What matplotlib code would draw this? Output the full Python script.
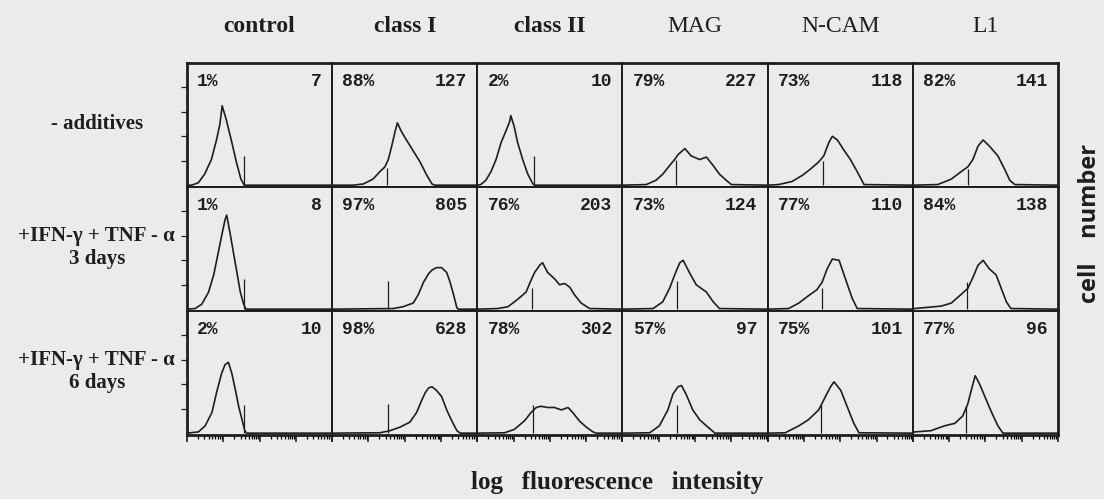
import matplotlib
matplotlib.use("Agg")
import matplotlib.pyplot as plt
import numpy as np

# column antigens and row treatments
antigens = ["control", "class I", "class II", "MAG", "N-CAM", "L1"]
title_weights = ["bold", "bold", "bold", "normal", "normal", "normal"]
treatments = ["- additives", "+IFN-\u03b3 + TNF - \u03b1\n3 days", "+IFN-\u03b3 + TNF - \u03b1\n6 days"]

# % positive cells (upper left) and mean fluorescence (upper right)
pct_labels = [["1%", "88%", "2%", "79%", "73%", "82%"],
              ["1%", "97%", "76%", "73%", "77%", "84%"],
              ["2%", "98%", "78%", "57%", "75%", "77%"]]
mean_labels = [["7", "127", "10", "227", "118", "141"],
               ["8", "805", "203", "124", "110", "138"],
               ["10", "628", "302", "97", "101", "96"]]

# gate marker (channel, height)
marker_ch = [[100, 97, 100, 95, 97, 97],
             [100, 98, 97, 96, 95, 95],
             [101, 98, 98, 96, 94, 94]]
marker_h = [[24, 14, 24, 21, 20, 13],
            [25, 23, 17, 23, 17, 22],
            [23, 24, 23, 23, 24, 22]]

# histograms: log fluorescence channel (0-256) vs relative cell number
control_ch = [[0, 8, 20, 31, 43, 52, 58, 62, 69, 78, 87, 95, 101, 256],
              [0, 14, 26, 38, 47, 55, 61, 67, 70, 76, 82, 88, 94, 100, 104, 256],
              [0, 20, 32, 44, 52, 61, 67, 73, 79, 85, 91, 97, 102, 105, 256]]
control_n = [[0, 0, 2, 9, 21, 37, 50, 65, 54, 37, 19, 5, 0, 0],
             [0, 0.5, 4, 14, 28, 46, 60, 73, 77, 62, 46, 30, 14, 4, 0, 0],
             [0, 1, 6, 17, 33, 49, 56, 58, 49, 36, 22, 11, 2, 0, 0]]

class1_ch = [[0, 37, 55, 72, 84, 93, 99, 105, 111, 115, 122, 131, 143, 155, 167, 176, 181, 256],
             [0, 108, 125, 143, 152, 161, 170, 176, 184, 193, 202, 208, 214, 220, 223, 256],
             [0, 84, 102, 120, 137, 149, 158, 164, 170, 176, 184, 193, 202, 211, 220, 226, 256]]
class1_n = [[0, 0, 1, 5, 11, 15, 21, 32, 44, 51, 44, 37, 28, 19, 8, 1, 0, 0],
            [0, 0.5, 2, 5, 12, 22, 29, 32, 34, 34, 30, 22, 12, 1, 0, 0],
            [0, 0.3, 2, 5, 9, 17, 27, 33, 37, 38, 35, 30, 19, 10, 2, 0, 0]]

class2_ch = [[0, 6, 15, 24, 33, 42, 51, 57, 59, 65, 71, 80, 89, 98, 101, 256],
             [0, 36, 54, 71, 86, 95, 101, 110, 115, 124, 136, 145, 154, 163, 171, 183, 198, 256],
             [0, 48, 65, 83, 95, 104, 112, 124, 136, 148, 160, 168, 180, 192, 204, 210, 256]]
class2_n = [[0, 0.5, 4, 11, 21, 35, 45, 52, 57, 48, 35, 21, 9, 1, 0, 0],
            [0, 0.5, 2, 8, 14, 24, 30, 36, 38, 30, 25, 20, 21, 18, 12, 5, 0.5, 0],
            [0, 0.3, 3, 10, 17, 21, 22, 21, 21, 19, 21, 17, 10, 5, 1, 0, 0]]

mag_ch = [[0, 42, 59, 71, 83, 92, 98, 110, 121, 136, 148, 160, 171, 183, 192, 256],
          [0, 54, 71, 83, 92, 101, 107, 118, 130, 148, 160, 171, 256],
          [0, 48, 65, 80, 89, 98, 104, 112, 124, 136, 148, 163, 256]]
mag_n = [[0, 0.5, 4, 9, 16, 21, 25, 30, 24, 21, 23, 16, 9, 4, 0.5, 0],
         [0, 0.5, 6, 17, 28, 38, 40, 30, 20, 14, 6, 0.5, 0],
         [0, 0.3, 6, 19, 32, 38, 39, 32, 19, 11, 6, 0, 0]]

ncam_ch = [[0, 19, 43, 61, 75, 90, 99, 108, 114, 123, 134, 146, 158, 170, 256],
           [0, 37, 55, 72, 87, 96, 105, 114, 126, 137, 149, 158, 256],
           [0, 31, 55, 72, 90, 102, 111, 117, 129, 140, 152, 161, 256]]
ncam_n = [[0, 0.5, 3, 8, 13, 19, 24, 35, 40, 37, 29, 21, 11, 0.5, 0],
          [0, 0.5, 5, 11, 16, 22, 33, 41, 40, 25, 9, 0.5, 0],
          [0, 0.3, 6, 11, 19, 30, 38, 42, 35, 22, 8, 0.3, 0]]

l1_ch = [[0, 44, 68, 85, 97, 106, 115, 124, 135, 150, 162, 171, 180, 256],
         [0, 3, 27, 50, 68, 85, 97, 106, 115, 124, 135, 147, 156, 165, 173, 256],
         [0, 3, 32, 56, 74, 88, 97, 103, 110, 118, 127, 138, 150, 159, 256]]
l1_n = [[0, 0.5, 5, 11, 15, 21, 32, 37, 32, 24, 13, 4, 0.5, 0],
        [0, 0.5, 1.5, 2.5, 5, 12, 17, 26, 36, 40, 33, 28, 17, 6, 0.5, 0],
        [0, 1, 2, 6, 8, 14, 24, 35, 47, 40, 30, 18, 6, 0, 0]]

hist_ch = [control_ch, class1_ch, class2_ch, mag_ch, ncam_ch, l1_ch]
hist_n = [control_n, class1_n, class2_n, mag_n, ncam_n, l1_n]

paper = "#ebebe9"
ink = "#1e1e1e"

fig, axes = plt.subplots(3, 6, figsize=(11.04, 4.99), dpi=100, sharex=True, sharey=True)
fig.patch.set_facecolor(paper)
fig.subplots_adjust(left=0.1694, right=0.9583, bottom=0.1283, top=0.8737, wspace=0, hspace=0)

# log-decade ticks on the channel axis (4 decades over 256 channels)
major = [64 * d for d in range(5)]
minor = [64 * (d + np.log10(k)) for d in range(4) for k in range(2, 10)]

for r in range(3):
    for c in range(6):
        ax = axes[r, c]
        ax.set_facecolor(paper)
        ax.plot(hist_ch[c][r], hist_n[c][r], color=ink, lw=1.2)
        ax.vlines(marker_ch[r][c], 0, marker_h[r][c], color=ink, lw=0.9)
        ax.text(0.07, 0.85, pct_labels[r][c], transform=ax.transAxes, ha="left", va="center",
                family="Liberation Mono", weight="bold", fontsize=13, color=ink)
        ax.text(0.93, 0.85, mean_labels[r][c], transform=ax.transAxes, ha="right", va="center",
                family="Liberation Mono", weight="bold", fontsize=13, color=ink)
        for s in ax.spines.values():
            s.set_color(ink)
            s.set_linewidth(1.4)
        ax.set_xlim(0, 256)
        ax.set_ylim(-1.5, 100)
        ax.set_xticks(major)
        ax.set_xticks(minor, minor=True)
        ax.set_yticks([20, 40, 60, 80])
        ax.tick_params(labelbottom=False, labelleft=False, color=ink)
        ax.tick_params(axis="x", which="major", direction="out", length=5, width=1.2,
                       bottom=(r == 2))
        ax.tick_params(axis="x", which="minor", direction="out", length=3, width=0.9,
                       bottom=(r == 2))
        ax.tick_params(axis="y", direction="out", length=4, width=0.9, left=(c == 0))
        if r == 0:
            ax.annotate(antigens[c], xy=(0.5, 1.0), xycoords="axes fraction",
                        xytext=(0, 26), textcoords="offset points", ha="center", va="center",
                        family="Liberation Serif", weight=title_weights[c], fontsize=17, color=ink)
        if c == 0:
            ax.annotate(treatments[r], xy=(0, 0.5), xycoords="axes fraction",
                        xytext=(-65, 1), textcoords="offset points", ha="center", va="center",
                        family="Liberation Serif", weight="bold", fontsize=15, color=ink,
                        linespacing=1.25)

for ax in axes[0, :]:
    ax.spines["top"].set_linewidth(2.0)
for ax in axes[:, 0]:
    ax.spines["left"].set_linewidth(2.0)
for ax in axes[-1, :]:
    ax.spines["bottom"].set_linewidth(2.0)
for ax in axes[:, -1]:
    ax.spines["right"].set_linewidth(2.0)

fig.text(1090 / 1104, 1 - 223 / 499, "cell    number", rotation=90, ha="center", va="center",
         family="Open Sans", weight="bold", fontsize=17, color=ink)
fig.text(617 / 1104, 1 - 482 / 499, "log   fluorescence   intensity", ha="center", va="center",
         family="Liberation Serif", weight="bold", fontsize=18, color=ink)

fig.savefig("out.png", dpi=100, facecolor=paper)
